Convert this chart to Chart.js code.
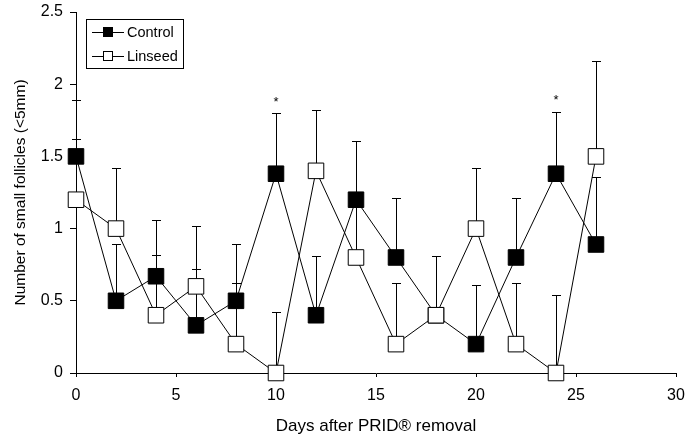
<!DOCTYPE html>
<html>
<head>
<meta charset="utf-8">
<script src="https://cdn.jsdelivr.net/npm/chart.js@4"></script>
<style>
  html, body { margin: 0; padding: 0; background: #fff; }
  #wrap { width: 688px; height: 445px; }
</style>
</head>
<body>
<div id="wrap"><canvas id="chart" width="688" height="445"></canvas></div>
<script>
var days = [0, 2, 4, 6, 8, 10, 12, 14, 16, 18, 20, 22, 24, 26];
var controlMeans = [1.5, 0.5, 0.67, 0.33, 0.5, 1.38, 0.4, 1.2, 0.8, 0.4, 0.2, 0.8, 1.38, 0.89];
var controlTops = [1.62, 0.89, 0.82, 0.72, 0.62, 1.80, 0.81, 1.61, 1.21, 0.81, 0.61, 1.21, 1.81, 1.36];
var linseedMeans = [1.2, 1.0, 0.4, 0.6, 0.2, 0, 1.4, 0.8, 0.2, 0.4, 1.0, 0.2, 0, 1.5];
var linseedTops = [1.89, 1.42, 1.06, 1.02, 0.89, 0.42, 1.82, 1.15, 0.62, 0.81, 1.42, 0.62, 0.54, 2.16];
var starDays = [10, 24];
var xTicks = [0, 5, 10, 15, 20, 25, 30];
var yTicks = [0, 0.5, 1, 1.5, 2, 2.5];

var FONT = '"Liberation Sans", Arial, sans-serif';

function toPoints(xs, ys) {
  return xs.map(function (x, i) { return { x: x, y: ys[i] }; });
}

// upward-only error bars, drawn under the markers
var errorBars = {
  id: 'errorBars',
  beforeDatasetsDraw: function (chart) {
    var ctx = chart.ctx;
    var xs = chart.scales.x, ys = chart.scales.y;
    ctx.save();
    ctx.strokeStyle = '#000';
    ctx.lineWidth = 1;
    chart.data.datasets.forEach(function (ds) {
      ds.tops.forEach(function (top, i) {
        var px = Math.round(xs.getPixelForValue(days[i])) + 0.5;
        var y0 = ys.getPixelForValue(ds.data[i].y);
        var y1 = Math.round(ys.getPixelForValue(top)) + 0.5;
        ctx.beginPath();
        ctx.moveTo(px, y0);
        ctx.lineTo(px, y1);
        ctx.moveTo(px - 4.5, y1);
        ctx.lineTo(px + 4.5, y1);
        ctx.stroke();
      });
    });
    ctx.restore();
  },
  afterDatasetsDraw: function (chart) {
    var ctx = chart.ctx;
    var xs = chart.scales.x, ys = chart.scales.y;
    ctx.save();
    ctx.fillStyle = '#000';
    ctx.font = '13px ' + FONT;
    ctx.textAlign = 'center';
    ctx.textBaseline = 'middle';
    starDays.forEach(function (d) {
      var i = days.indexOf(d);
      var px = xs.getPixelForValue(d);
      var py = ys.getPixelForValue(controlTops[i]);
      ctx.fillText('*', px, py - 11);
    });
    ctx.restore();

    // legend box
    var items = [
      { label: 'Control', fill: '#000', y: 32 },
      { label: 'Linseed', fill: '#fff', y: 56 }
    ];
    ctx.save();
    ctx.strokeStyle = '#000';
    ctx.lineWidth = 1;
    ctx.strokeRect(86.5, 19.5, 97, 49);
    items.forEach(function (it) {
      ctx.beginPath();
      ctx.moveTo(92, it.y + 0.5);
      ctx.lineTo(124, it.y + 0.5);
      ctx.stroke();
      ctx.fillStyle = it.fill;
      ctx.fillRect(103.5, it.y - 4.5, 9, 9);
      ctx.strokeRect(103.5, it.y - 4.5, 9, 9);
      ctx.fillStyle = '#000';
      ctx.font = '14.5px ' + FONT;
      ctx.textAlign = 'left';
      ctx.textBaseline = 'middle';
      ctx.fillText(it.label, 127, it.y + 1);
    });
    ctx.restore();
  }
};

function plainTick(v) { return String(v); }

var ctx = document.getElementById('chart').getContext('2d');
new Chart(ctx, {
  type: 'line',
  data: {
    datasets: [
      {
        label: 'Linseed',
        data: toPoints(days, linseedMeans),
        tops: linseedTops,
        borderColor: '#000',
        borderWidth: 1,
        pointStyle: 'rect',
        pointRadius: 11,
        pointBackgroundColor: '#fff',
        pointBorderColor: '#000',
        pointBorderWidth: 1,
        tension: 0,
        clip: false
      },
      {
        label: 'Control',
        data: toPoints(days, controlMeans),
        tops: controlTops,
        borderColor: '#000',
        borderWidth: 1,
        pointStyle: 'rect',
        pointRadius: 11,
        pointBackgroundColor: '#000',
        pointBorderColor: '#000',
        pointBorderWidth: 1,
        tension: 0,
        clip: false
      }
    ]
  },
  options: {
    responsive: false,
    animation: false,
    events: [],
    layout: { padding: { top: 11, right: 12, left: 0, bottom: 0 } },
    plugins: { legend: { display: false }, tooltip: { enabled: false } },
    scales: {
      x: {
        type: 'linear',
        min: 0,
        max: 30,
        afterFit: function (s) { s.height = 72; s.paddingLeft = 0; s.paddingRight = 0; },
        afterBuildTicks: function (s) { s.ticks = xTicks.map(function (v) { return { value: v }; }); },
        grid: { display: true, drawOnChartArea: false, drawTicks: true, tickLength: 4, color: '#000', lineWidth: 1 },
        border: { display: true, color: '#000', width: 1 },
        ticks: { color: '#000', font: { family: FONT, size: 16 }, padding: 9, maxRotation: 0, callback: plainTick },
        title: { display: true, text: 'Days after PRID® removal', color: '#000', font: { family: FONT, size: 17 }, padding: { top: 0, bottom: 8 } }
      },
      y: {
        type: 'linear',
        min: 0,
        max: 2.5,
        afterFit: function (s) { s.width = 76; s.paddingTop = 0; s.paddingBottom = 0; },
        afterBuildTicks: function (s) { s.ticks = yTicks.map(function (v) { return { value: v }; }); },
        grid: { display: true, drawOnChartArea: false, drawTicks: true, tickLength: 6, color: '#000', lineWidth: 1 },
        border: { display: true, color: '#000', width: 1 },
        ticks: { color: '#000', font: { family: FONT, size: 16 }, padding: 7, callback: plainTick },
        title: { display: true, text: 'Number of small follicles (<5mm)', color: '#000', font: { family: FONT, size: 15.5 }, padding: { top: 11, bottom: 0 } }
      }
    }
  },
  plugins: [errorBars]
});
</script>
</body>
</html>
